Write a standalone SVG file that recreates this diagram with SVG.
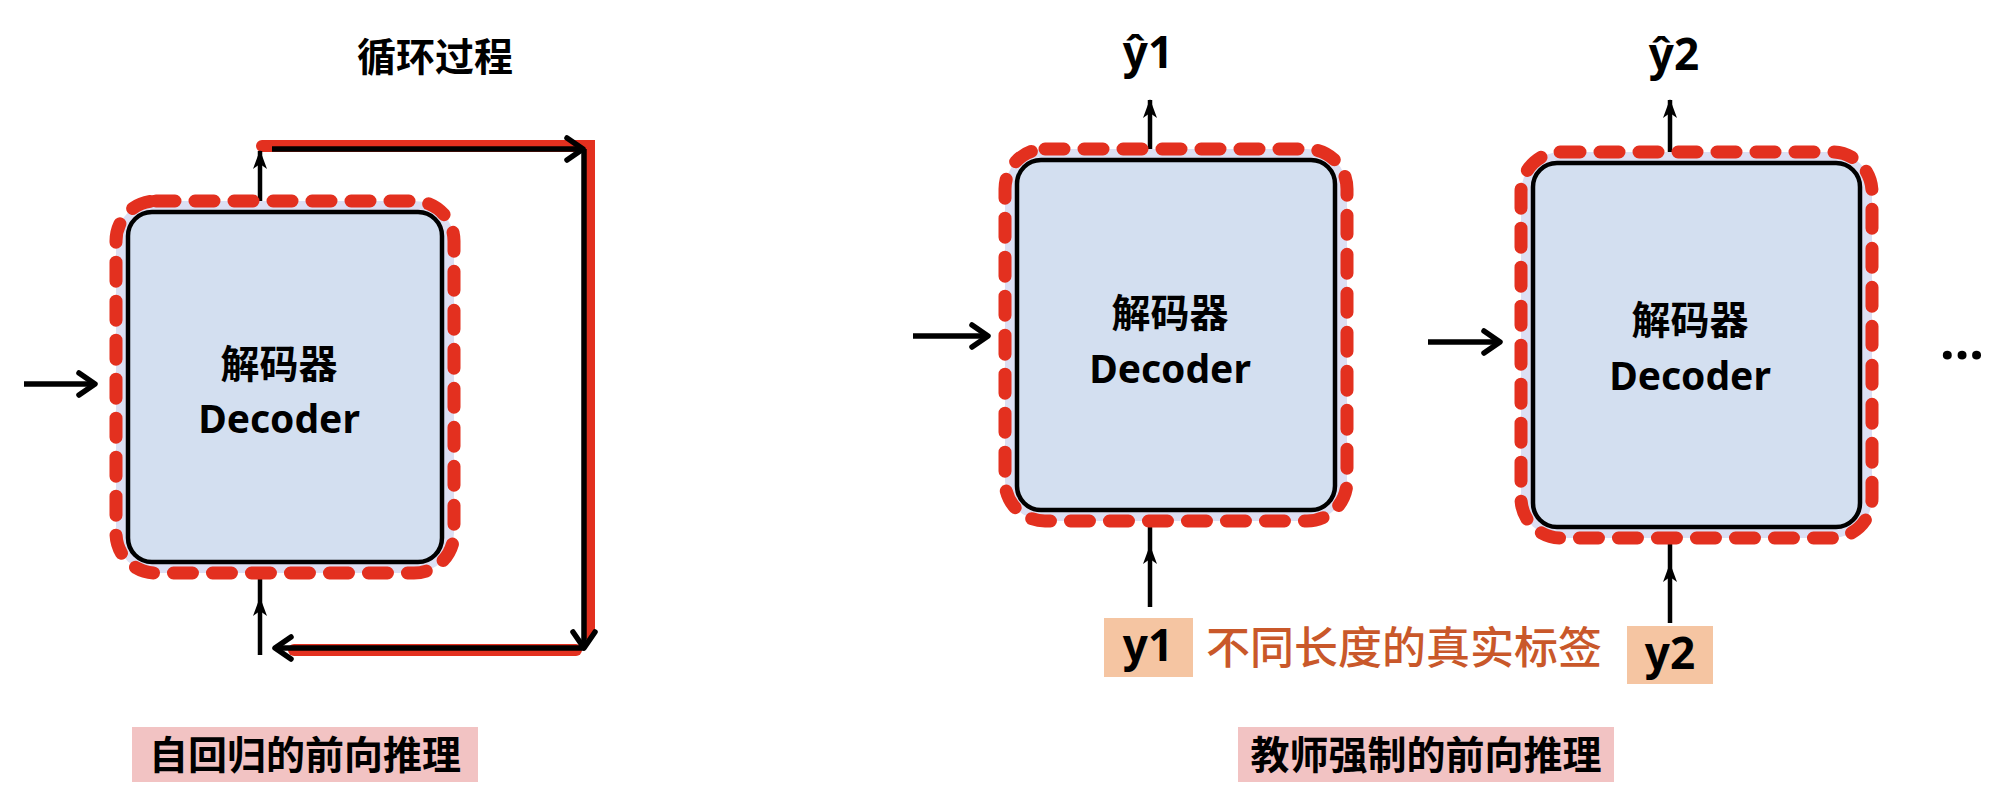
<svg xmlns="http://www.w3.org/2000/svg" width="2008" height="804" viewBox="0 0 2008 804">
  <style>
    .halo { fill: #dcdff3; stroke: #e3301f; stroke-width: 13; stroke-dasharray: 19 20; stroke-linecap: round; }
    .box { fill: #d3dff0; stroke: #000; stroke-width: 4.5; }
    .t { font-family: "Noto Sans", "Noto Sans CJK SC", sans-serif; font-weight: 700; fill: #000; text-anchor: middle; }
    .cn { font-size: 39px; }
    .en { font-size: 39px; }
    .lab { font-size: 39px; }
    .y { font-size: 44px; }
    .orange { font-family: "Noto Sans CJK SC", "Noto Sans", sans-serif; font-size: 44px; fill: #c9582a; font-weight: 500; }
    .ln { fill: none; stroke: #000; stroke-width: 5.5; }
    .thin { fill: none; stroke: #000; stroke-width: 4.5; }
    .red { fill: none; stroke: #e3301f; stroke-width: 12; stroke-linecap: round; }
  </style>
  <defs>
    <marker id="chev" markerUnits="userSpaceOnUse" markerWidth="40" markerHeight="40" viewBox="-24 -20 40 40" refX="0" refY="0" orient="auto">
      <path d="M-16,-11 L0,0 L-16,11" fill="none" stroke="#000" stroke-width="5.5" stroke-linecap="round" stroke-linejoin="round"/>
    </marker>
    <marker id="tri" markerUnits="userSpaceOnUse" markerWidth="30" markerHeight="30" viewBox="-22 -15 30 30" refX="0" refY="0" orient="auto">
      <path d="M1,0 L-18,-7 L-13,0 L-18,7 Z" fill="#000"/>
    </marker>
  </defs>

  <text class="t lab" x="435" y="71">循环过程</text>

  <g id="connectors">
    <path class="red" d="M262,146 H589 V634"/>
    <path class="red" d="M576,650 H294"/>
    <line class="ln" x1="24" y1="384" x2="95" y2="384" marker-end="url(#chev)"/>
    <line class="thin" x1="260" y1="212" x2="260" y2="151" marker-end="url(#tri)"/>
    <line class="ln" x1="272" y1="149" x2="583" y2="149" marker-end="url(#chev)"/>
    <line class="ln" x1="584" y1="149" x2="584" y2="648" marker-end="url(#chev)"/>
    <line class="ln" x1="584" y1="648" x2="275" y2="648" marker-end="url(#chev)"/>
    <path class="thin" d="M260,655 L260,598 L260,562" marker-mid="url(#tri)"/>

    <line class="ln" x1="913" y1="336" x2="988" y2="336" marker-end="url(#chev)"/>
    <line class="thin" x1="1150" y1="160" x2="1150" y2="100" marker-end="url(#tri)"/>
    <path class="thin" d="M1150,607 L1150,546 L1150,510" marker-mid="url(#tri)"/>

    <line class="ln" x1="1428" y1="342" x2="1500" y2="342" marker-end="url(#chev)"/>
    <line class="thin" x1="1670" y1="163" x2="1670" y2="100" marker-end="url(#tri)"/>
    <path class="thin" d="M1670,623 L1670,564 L1670,527" marker-mid="url(#tri)"/>
  </g>

  <g id="decoder-left">
    <rect class="halo" x="116" y="201" width="338" height="372" rx="40"/>
    <rect class="box" x="128" y="212" width="314" height="350" rx="24"/>
    <text class="t cn" x="279" y="378">解码器</text>
    <text class="t en" x="279" y="433">Decoder</text>
  </g>

  <g id="decoder-1">
    <rect class="halo" x="1005" y="149" width="342" height="372" rx="40"/>
    <rect class="box" x="1017" y="160" width="318" height="350" rx="24"/>
    <text class="t cn" x="1170" y="327">解码器</text>
    <text class="t en" x="1170" y="383">Decoder</text>
  </g>

  <g id="decoder-2">
    <rect class="halo" x="1521" y="152" width="351" height="386" rx="40"/>
    <rect class="box" x="1533" y="163" width="327" height="364" rx="24"/>
    <text class="t cn" x="1690" y="334">解码器</text>
    <text class="t en" x="1690" y="390">Decoder</text>
  </g>

  <g id="out-1"><text class="t y" x="1148" y="68">ŷ1</text></g>
  <g id="out-2"><text class="t y" x="1674" y="70">ŷ2</text></g>

  <g id="label-y1">
    <rect x="1104" y="618" width="89" height="59" fill="#f5c5a2"/>
    <text class="t y" x="1148" y="661">y1</text>
  </g>
  <g id="label-y2">
    <rect x="1627" y="626" width="86" height="58" fill="#f5c5a2"/>
    <text class="t y" x="1670" y="669">y2</text>
  </g>
  <text class="orange" x="1206" y="664">不同长度的真实标签</text>

  <text class="t" x="1962" y="359" font-size="52">...</text>

  <g id="caption-left">
    <rect x="132" y="727" width="346" height="55" fill="#f2c3c3"/>
    <text class="t lab" x="305" y="769">自回归的前向推理</text>
  </g>
  <g id="caption-right">
    <rect x="1238" y="727" width="376" height="55" fill="#f2c3c3"/>
    <text class="t lab" x="1426" y="769">教师强制的前向推理</text>
  </g>
</svg>
